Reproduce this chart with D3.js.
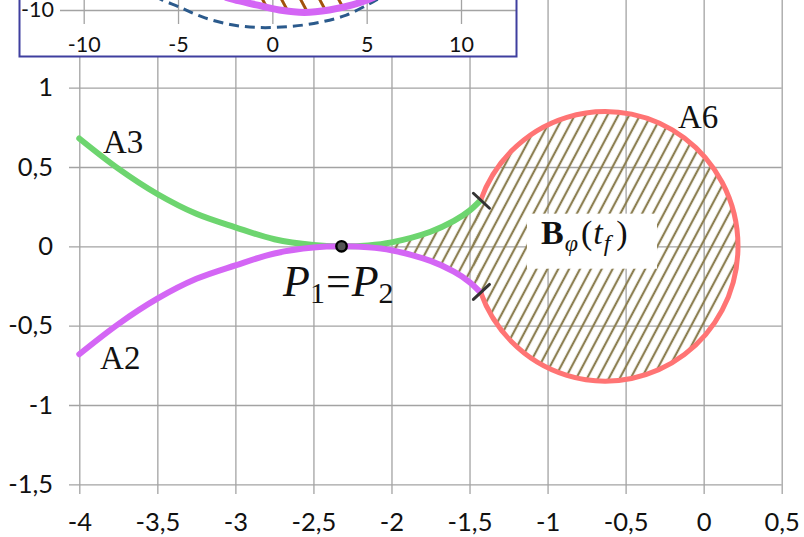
<!DOCTYPE html>
<html>
<head>
<meta charset="utf-8">
<script src="https://cdn.jsdelivr.net/npm/d3@7"></script>
<style>
  html, body { margin: 0; padding: 0; background: #fff; }
  svg { display: block; }
</style>
</head>
<body>
<svg id="chart" width="804" height="537"></svg>
<script>
// ---- main plot ticks ----
const xTicks = [-4, -3.5, -3, -2.5, -2, -1.5, -1, -0.5, 0, 0.5];
const yTicks = [-1.5, -1, -0.5, 0, 0.5, 1];

// ---- boundary arcs A3 (upper) and A2 (lower), on a shared x grid ----
const armX = [-4, -3.75, -3.5, -3.25, -3, -2.75, -2.5, -2.32, -2.15, -2, -1.75, -1.6, -1.5, -1.43];
const a3Y  = [0.68, 0.49, 0.33, 0.205, 0.12, 0.045, 0.008, 0, 0.006, 0.025, 0.092, 0.16, 0.225, 0.29];
const a2Y  = [-0.68, -0.49, -0.33, -0.205, -0.12, -0.045, -0.008, 0, -0.006, -0.025, -0.092, -0.16, -0.225, -0.29];

// ---- arc A6: circle bounding B_phi(t_f) ----
const a6Center = [-0.63, 0];
const a6Radius = 0.85;
const armEndX = -1.43;

// ---- the point P1 = P2 ----
const pointP = [-2.32, 0];

// ---- inset ----
const insetXTicks = [-10, -5, 0, 5, 10];
const insetYTicks = [-10];
const insetDashX = [-6.25, -5.83, -4.93, -3.71, -2.23, -0.79, 0.90, 2.49, 3.92, 5.03, 5.51, 5.94];
const insetDashY = [-9.26, -9.47, -9.84, -10.37, -10.77, -10.93, -10.88, -10.66, -10.27, -9.73, -9.47, -9.20];
const insetArcX  = [-2.49, -1.75, -0.85, 0.37, 1.70, 3.02, 4.24, 5.03, 5.41];
const insetArcY  = [-9.31, -9.52, -9.73, -10.0, -10.13, -10.0, -9.73, -9.47, -9.31];

const fmt = d => String(d).replace('.', ',');
const svg = d3.select('#chart');

const x = d3.scaleLinear().domain([-4, 0.5]).range([79.3, 781.7]);
const y = d3.scaleLinear().domain([-1.5, 1]).range([484.3, 87.7]);

const gridColor = '#a3a3a3';
const tickFont = 'Lato, "Open Sans", sans-serif';

// ---- patterns ----
const defs = svg.append('defs');
const hatch = defs.append('pattern')
  .attr('id', 'hatch').attr('patternUnits', 'userSpaceOnUse')
  .attr('width', 9.6).attr('height', 20)
  .attr('patternTransform', 'rotate(28)');
hatch.append('line').attr('x1', 4.8).attr('x2', 4.8).attr('y1', -2).attr('y2', 22)
  .attr('stroke', '#8c7f52').attr('stroke-width', 2.2);

const hatchInset = defs.append('pattern')
  .attr('id', 'hatchInset').attr('patternUnits', 'userSpaceOnUse')
  .attr('width', 16.8).attr('height', 20)
  .attr('patternTransform', 'translate(6,0) rotate(-28)');
hatchInset.append('line').attr('x1', 8.4).attr('x2', 8.4).attr('y1', -2).attr('y2', 22)
  .attr('stroke', '#a2520c').attr('stroke-width', 3);

defs.append('clipPath').attr('id', 'insetClip')
  .append('rect').attr('x', 20).attr('y', -5).attr('width', 496).attr('height', 61);

// ---- main grid + axes ----
const xAxis = svg.append('g').attr('transform', 'translate(0,0)')
  .call(d3.axisBottom(x).tickValues(xTicks).tickSize(494).tickPadding(19).tickFormat(fmt));
const yAxis = svg.append('g').attr('transform', `translate(${x(0.5)},0)`)
  .call(d3.axisLeft(y).tickValues(yTicks).tickSize(x(0.5) - 69).tickPadding(16).tickFormat(fmt));
[xAxis, yAxis].forEach(g => {
  g.select('.domain').remove();
  g.selectAll('line').attr('stroke', gridColor).attr('stroke-width', 1.3);
  g.selectAll('text').attr('font-family', tickFont).attr('font-size', 25.5).attr('fill', '#111');
});

// ---- hatched set ----
const [cx, cy] = a6Center;
const rx = x(cx + a6Radius) - x(cx);
const ry = y(cy) - y(cy + a6Radius);
svg.append('ellipse')
  .attr('cx', x(cx)).attr('cy', y(cy)).attr('rx', rx).attr('ry', ry)
  .attr('fill', 'url(#hatch)');

const lens = armX.map((v, i) => ({ x: v, hi: a3Y[i], lo: a2Y[i] })).filter(d => d.x >= pointP[0]);
svg.append('path')
  .attr('d', d3.area().x(d => x(d.x)).y0(d => y(d.lo)).y1(d => y(d.hi)).curve(d3.curveCatmullRom)(lens))
  .attr('fill', 'url(#hatch)');

// label box for B_phi(t_f)
svg.append('rect')
  .attr('x', x(-1.132)).attr('y', y(0.206))
  .attr('width', x(-0.299) - x(-1.132)).attr('height', y(-0.141) - y(0.206))
  .attr('fill', '#fff');
const bText = svg.append('text')
  .attr('x', x(-1.036)).attr('y', y(0.017))
  .attr('font-family', '"Liberation Serif", "DejaVu Serif", serif')
  .attr('font-size', 34).attr('fill', '#111');
bText.append('tspan').attr('font-weight', 'bold').attr('dx', -1).text('B');
bText.append('tspan').attr('font-style', 'italic').attr('font-size', 24).attr('dy', 7).attr('dx', 1).text('φ');
bText.append('tspan').attr('dy', -7).attr('dx', 3).text('(');
bText.append('tspan').attr('font-style', 'italic').attr('dx', 1).text('t');
bText.append('tspan').attr('font-style', 'italic').attr('font-size', 24).attr('dy', 7).attr('dx', 1).text('f');
bText.append('tspan').attr('dy', -7).attr('dx', 6).text(')');

// ---- arms ----
const armLine = d3.line().x(d => x(d[0])).y(d => y(d[1])).curve(d3.curveCatmullRom);
svg.append('path').attr('d', armLine(armX.map((v, i) => [v, a3Y[i]])))
  .attr('fill', 'none').attr('stroke', '#6dd56f').attr('stroke-width', 6).attr('stroke-linecap', 'round');
svg.append('path').attr('d', armLine(armX.map((v, i) => [v, a2Y[i]])))
  .attr('fill', 'none').attr('stroke', '#d466f5').attr('stroke-width', 6).attr('stroke-linecap', 'round');

// ---- arc A6: from the upper arm end round the right side to the lower arm end ----
const jy = Math.sqrt(a6Radius * a6Radius - (armEndX - cx) * (armEndX - cx));
svg.append('path')
  .attr('d', `M${x(armEndX)},${y(cy + jy)} A${rx},${ry} 0 1 1 ${x(armEndX)},${y(cy - jy)}`)
  .attr('fill', 'none').attr('stroke', '#ff7474').attr('stroke-width', 5);

// junction markers
[[armEndX, cy + jy, 1], [armEndX, cy - jy, -1]].forEach(([jx, jyy, s]) => {
  const px = x(jx) + 1, py = y(jyy), L = 11;
  const a = 43 * Math.PI / 180;
  svg.append('line')
    .attr('x1', px - L * Math.cos(a)).attr('y1', py - s * L * Math.sin(a))
    .attr('x2', px + L * Math.cos(a)).attr('y2', py + s * L * Math.sin(a))
    .attr('stroke', '#333').attr('stroke-width', 3).attr('stroke-linecap', 'round');
});

// point P1 = P2
svg.append('circle').attr('cx', x(pointP[0])).attr('cy', y(pointP[1])).attr('r', 5.2)
  .attr('fill', '#555').attr('stroke', '#000').attr('stroke-width', 2.4);

// ---- curve labels ----
const serif = '"Liberation Serif", "DejaVu Serif", serif';
[['A3', -3.848, 0.59], ['A2', -3.867, -0.771], ['A6', -0.165, 0.748]].forEach(([t, lx, ly]) => {
  svg.append('text').attr('x', x(lx)).attr('y', y(ly))
    .attr('font-family', serif).attr('font-size', 33).attr('fill', '#111').text(t);
});
const pText = svg.append('text').attr('x', x(-2.695)).attr('y', y(-0.311))
  .attr('font-family', serif).attr('font-size', 44).attr('fill', '#111');
pText.append('tspan').attr('font-style', 'italic').text('P');
pText.append('tspan').attr('font-size', 30).attr('dy', 7).text('1');
pText.append('tspan').attr('dy', -7).attr('dx', 1).text('=');
pText.append('tspan').attr('font-style', 'italic').attr('dx', 1).text('P');
pText.append('tspan').attr('font-size', 30).attr('dy', 7).text('2');

// ---- inset ----
const ix = d3.scaleLinear().domain([-10, 10]).range([83.7, 461]);
const iy = d3.scaleLinear().domain([-11, -9]).range([28.8, -8.8]);
const inset = svg.append('g');
inset.append('rect').attr('x', 19.5).attr('y', -5).attr('width', 497).attr('height', 61.5)
  .attr('fill', '#fff');
const ixAxis = inset.append('g').attr('transform', 'translate(0,-5)')
  .call(d3.axisBottom(ix).tickValues(insetXTicks).tickSize(29).tickPadding(13).tickFormat(fmt));
const iyAxis = inset.append('g').attr('transform', 'translate(516,0)')
  .call(d3.axisLeft(iy).tickValues(insetYTicks).tickSize(456).tickPadding(6).tickFormat(fmt));
[ixAxis, iyAxis].forEach(g => {
  g.select('.domain').remove();
  g.selectAll('line').attr('stroke', gridColor).attr('stroke-width', 1.3);
  g.selectAll('text').attr('font-family', tickFont).attr('font-size', 21.5).attr('fill', '#111');
});
const insetPlot = inset.append('g').attr('clip-path', 'url(#insetClip)');
const arcPts = insetArcX.map((v, i) => [v, insetArcY[i]]);
insetPlot.append('path')
  .attr('d', d3.area().x(d => ix(d[0])).y0(-10).y1(d => iy(d[1])).curve(d3.curveCatmullRom)(arcPts))
  .attr('fill', 'url(#hatchInset)');
insetPlot.append('path')
  .attr('d', d3.line().x(d => ix(d[0])).y(d => iy(d[1])).curve(d3.curveCatmullRom)(insetDashX.map((v, i) => [v, insetDashY[i]])))
  .attr('fill', 'none').attr('stroke', '#2b5a8c').attr('stroke-width', 3).attr('stroke-dasharray', '10,6');
insetPlot.append('path')
  .attr('d', d3.line().x(d => ix(d[0])).y(d => iy(d[1])).curve(d3.curveCatmullRom)(arcPts))
  .attr('fill', 'none').attr('stroke', '#d466f5').attr('stroke-width', 7);
inset.append('rect').attr('x', 19.5).attr('y', -5).attr('width', 497).attr('height', 61.5)
  .attr('fill', 'none').attr('stroke', '#3f3f9f').attr('stroke-width', 2);
</script>
</body>
</html>
